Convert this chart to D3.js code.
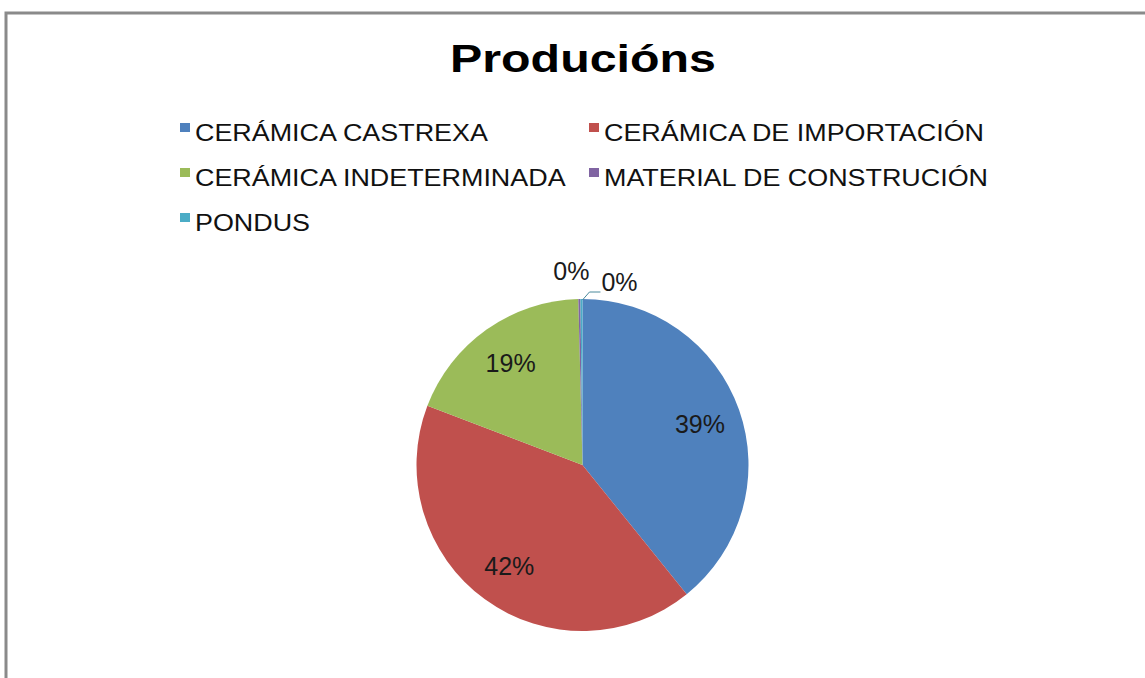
<!DOCTYPE html>
<html>
<head>
<meta charset="utf-8">
<script src="https://cdn.jsdelivr.net/npm/d3@7"></script>
<style>
  body { margin: 0; background: #fff; }
  text { font-family: "Liberation Sans", Arial, sans-serif; }
</style>
</head>
<body>
<svg width="1145" height="678"></svg>
<script>
// chart data
var categories = ["CERÁMICA CASTREXA", "CERÁMICA DE IMPORTACIÓN", "CERÁMICA INDETERMINADA", "MATERIAL DE CONSTRUCIÓN", "PONDUS"];
var values = [196, 208, 94, 1, 1];
var colors = ["#4f81bd", "#c0504d", "#9bbb59", "#8064a2", "#4bacc6"];
var title = "Producións";

var svg = d3.select("svg"),
	width = +svg.attr("width"),
	height = +svg.attr("height");

// chart frame (only top and left edges are in view)
svg.append("rect")
	.attr("x", 6).attr("y", 13)
	.attr("width", width + 20).attr("height", height + 20)
	.attr("fill", "#fff")
	.attr("stroke", "#8a8a8a")
	.attr("stroke-width", 3);

// title
svg.append("text")
	.attr("transform", "translate(583,72) scale(1.24,1)")
	.attr("text-anchor", "middle")
	.attr("font-size", 39)
	.attr("font-weight", "bold")
	.attr("fill", "#000")
	.text(title);

// legend, two columns
var legend = svg.append("g")
	.selectAll("g")
	.data(categories)
	.enter().append("g")
		.attr("transform", function(d, i) { return "translate(" + [180, 589][i % 2] + "," + (141 + Math.floor(i / 2) * 45) + ")"; });

legend.append("rect")
	.attr("x", 0).attr("y", -18)
	.attr("width", 10).attr("height", 9)
	.attr("fill", function(d, i) { return colors[i]; });

legend.append("text")
	.attr("transform", "translate(15,0) scale(1.17,1)")
	.attr("font-size", 23)
	.attr("fill", "#111")
	.text(function(d) { return d; });

// pie
var cx = 582.5, cy = 465, radius = 166;
var total = d3.sum(values);

var pie = d3.pie().sort(null).value(function(d) { return d; });
var arcs = pie(values);

var arc = d3.arc().innerRadius(0).outerRadius(radius);
var labelArc = d3.arc().innerRadius(radius * 0.75).outerRadius(radius * 0.75);

var g = svg.append("g").attr("transform", "translate(" + cx + "," + cy + ")");

g.selectAll("path")
	.data(arcs)
	.enter().append("path")
		.attr("d", arc)
		.attr("fill", function(d, i) { return colors[i]; });

var fmt = function(v) { return Math.round(v / total * 100) + "%"; };

// big slices: label inside
g.selectAll("text.inside")
	.data(arcs.filter(function(d) { return d.value / total >= 0.01; }))
	.enter().append("text")
		.attr("class", "inside")
		.attr("transform", function(d) { return "translate(" + labelArc.centroid(d) + ")"; })
		.attr("text-anchor", "middle")
		.attr("dy", "0.36em")
		.attr("font-size", 25)
		.attr("fill", "#1a1a1a")
		.text(function(d) { return fmt(d.value); });

// tiny slices: label outside, the second one with a leader line
var small = arcs.filter(function(d) { return d.value / total < 0.01; });
small.forEach(function(d, k) {
	var a = (d.startAngle + d.endAngle) / 2;
	var px = Math.sin(a) * radius, py = -Math.cos(a) * radius;
	if (k === 0) {
		g.append("text")
			.attr("x", px - 8).attr("y", py - 19)
			.attr("text-anchor", "middle")
			.attr("font-size", 25)
			.attr("fill", "#1a1a1a")
			.text(fmt(d.value));
	} else {
		g.append("path")
			.attr("d", d3.line()([[px + 1, py + 1], [px + 8, py - 7], [px + 19, py - 7]]))
			.attr("fill", "none")
			.attr("stroke", "#4a8a9c")
			.attr("stroke-width", 1);
		g.append("text")
			.attr("x", px + 20).attr("y", py - 8)
			.attr("font-size", 25)
			.attr("fill", "#1a1a1a")
			.text(fmt(d.value));
	}
});
</script>
</body>
</html>
